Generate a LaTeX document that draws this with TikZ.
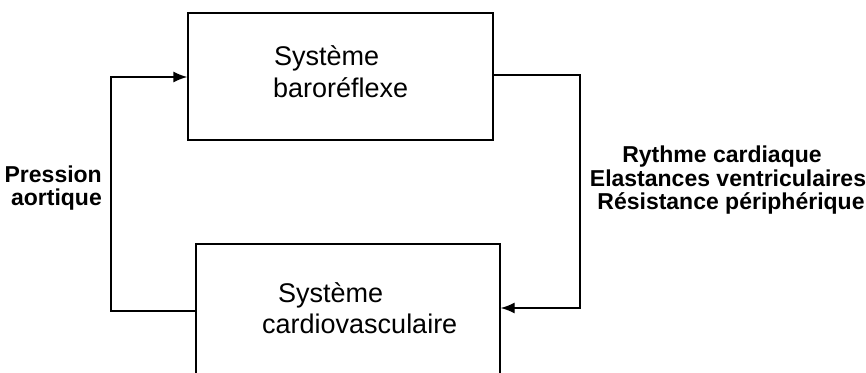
\documentclass[tikz,border=0pt]{standalone}
\usepackage{fontspec}
\setmainfont{Liberation Sans}
\usetikzlibrary{arrows.meta}
\tikzset{
  box/.style={draw, line width=1.4pt, inner sep=0pt, minimum width=#1},
  boxtxt/.style={font=\fontsize{27}{32}\selectfont, inner sep=0pt, anchor=base west},
  lbl/.style={font=\fontsize{23}{24}\selectfont\bfseries, inner sep=0pt},
  conn/.style={line width=1.4pt},
  arr/.style={conn, -{Latex[length=14pt,width=11pt]}}
}
\begin{document}
\begin{tikzpicture}[x=1pt,y=-1pt]
\useasboundingbox (0,0) rectangle (866,372);
\clip (0,0) rectangle (866,372);
% boxes
\node[box=305pt, minimum height=127pt] (baro) at (340.5,76.5) {};
\node[box=304pt, minimum height=160pt] (cardio) at (348,324) {};
% box texts
\node[boxtxt] (t1) at (274,65) {Système};
\node[boxtxt] (t2) at (273,97) {baroréflexe};
\node[boxtxt] (t3) at (278,302) {Système};
\node[boxtxt] (t4) at (262,333) {cardiovasculaire};
% labels
\node[lbl, anchor=base east] (p1) at (102,182) {Pression};
\node[lbl, anchor=base east] (p2) at (102,205) {aortique};
\node[lbl, anchor=base] (r1t) at (722,162) {Rythme cardiaque};
\node[lbl, anchor=base] (r2t) at (728,186) {Elastances ventriculaires};
\node[lbl, anchor=base] (r3t) at (731,209) {Résistance périphérique};
% connector coordinates
\coordinate (ra) at (580,75);
\coordinate (rb) at (580,308);
\coordinate (la) at (111,77);
\coordinate (lb) at (111,311);
% connectors
\draw[arr] (baro.east |- ra) -- (ra) -- (rb) -- (rb -| cardio.east);
\draw[arr] (cardio.west |- lb) -- (lb) -- (la) -- (la -| baro.west);
\end{tikzpicture}
\end{document}
